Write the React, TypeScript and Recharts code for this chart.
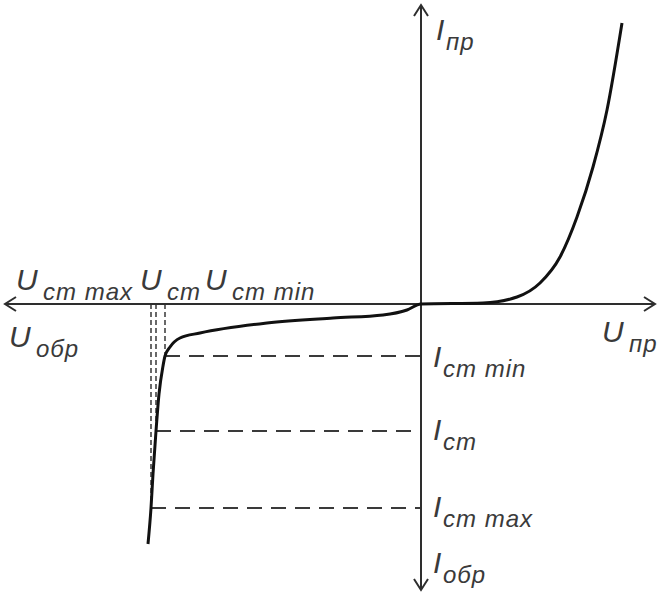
import React from "react";
import { LineChart, Line, XAxis, YAxis, ReferenceLine, ReferenceDot } from "recharts";

// Zener diode I–V characteristic (arbitrary units, origin at the axes crossing)
const uValues = [-273, -270, -268, -265, -262, -258, -256, -251, -241, -221, -154, -88, -38, -14, 0, 62, 96, 119, 139, 156, 172, 186, 201];
const iValues = [-240, -204, -170, -127, -90, -62, -52, -43, -34, -29, -19, -14, -11, -6, 0, 1, 7, 21, 47, 87, 137, 194, 281];

// stabilisation points: U_ст max / U_ст / U_ст min and matching currents
const stabU = [-270, -265, -256];
const stabI = [-204, -127, -52];

const curve = uValues.map((u, k) => ({ u, i: iValues[k] }));

const labelMain = ["U", "U", "U", "U", "U", "I", "I", "I", "I", "I"];
const labelSub = ["ст max", "ст", "ст min", "обр", "пр", "пр", "ст min", "ст", "ст max", "обр"];
const labelAt = [
  [-405, 14], [-281, 14], [-216, 14], [-412, -43], [181, -38],
  [15, 264], [12, -63], [12, -136], [12, -213], [12, -269],
];

const TEXT = "#3a3a3a";
const AXIS = "#2e2e2e";
const FONT = "'Liberation Sans', Arial, sans-serif";

const ArrowAxis = (p: any) => {
  const { x1, y1, x2, y2 } = p;
  const dx = x2 - x1;
  const dy = y2 - y1;
  const len = Math.hypot(dx, dy) || 1;
  const ux = dx / len;
  const uy = dy / len;
  const head = (x: number, y: number, sx: number, sy: number) =>
    `${x - sx * 11 - sy * 7},${y - sy * 11 + sx * 7} ${x},${y} ${x - sx * 11 + sy * 7},${y - sy * 11 - sx * 7}`;
  return (
    <g>
      <line x1={x1} y1={y1} x2={x2} y2={y2} stroke={AXIS} strokeWidth={2} />
      <polyline points={head(x2, y2, ux, uy)} fill="none" stroke={AXIS} strokeWidth={2} />
      <polyline points={head(x1, y1, -ux, -uy)} fill="none" stroke={AXIS} strokeWidth={2} />
    </g>
  );
};

const makeLabel = (k: number) => (p: any) => {
  const { cx, cy } = p;
  const main = labelMain[k];
  const dx = main === "U" ? 27 : 10;
  return (
    <g fontFamily={FONT} fontStyle="italic" fill={TEXT}>
      <text x={cx} y={cy} fontSize={30}>{main}</text>
      <text x={cx + dx} y={cy + 10} fontSize={24} letterSpacing={1}>{labelSub[k]}</text>
    </g>
  );
};

export default function App() {
  return (
    <div style={{ position: "absolute", left: 0, top: 0, width: 658, height: 596, background: "#fff" }}>
      <LineChart width={658} height={596} data={curve} margin={{ top: 0, right: 0, bottom: 0, left: 0 }}>
        <XAxis dataKey="u" type="number" domain={[-421, 237]} hide allowDataOverflow />
        <YAxis type="number" domain={[-292, 304]} hide allowDataOverflow />

        {stabI.map((iv, k) => (
          <ReferenceLine
            key={`h${k}`}
            segment={[{ x: stabU[k], y: iv }, { x: 0, y: iv }]}
            stroke="#3a3a3a"
            strokeWidth={2}
            strokeDasharray="15 9"
          />
        ))}
        {stabU.map((uv, k) => (
          <ReferenceLine
            key={`v${k}`}
            segment={[{ x: uv, y: 0 }, { x: uv, y: stabI[k] }]}
            stroke="#444"
            strokeWidth={1.6}
            strokeDasharray="5 3"
          />
        ))}

        <ReferenceLine segment={[{ x: -416, y: 0 }, { x: 234, y: 0 }]} shape={ArrowAxis} />
        <ReferenceLine segment={[{ x: 0, y: 299 }, { x: 0, y: -286 }]} shape={ArrowAxis} />

        <Line
          type="monotone"
          dataKey="i"
          stroke="#111"
          strokeWidth={3}
          strokeLinecap="butt"
          dot={false}
          activeDot={false}
          isAnimationActive={false}
        />

        {labelAt.map(([x, y], k) => (
          <ReferenceDot key={`l${k}`} x={x} y={y} r={0} fill="none" stroke="none" shape={makeLabel(k)} />
        ))}
      </LineChart>
    </div>
  );
}
